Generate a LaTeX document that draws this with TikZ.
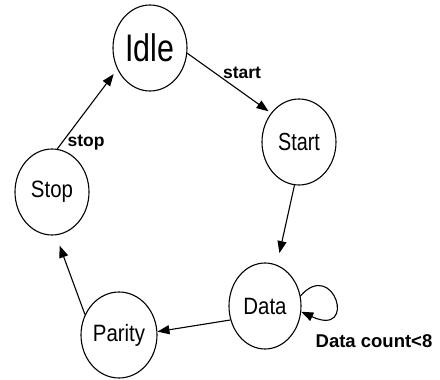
\documentclass[tikz,border=0pt]{standalone}
\usepackage{fontspec}
\setmainfont{Liberation Sans}
\usetikzlibrary{shapes.geometric,arrows.meta}
\tikzset{
  state/.style={draw, ellipse, line width=1.1pt, minimum width=74pt, minimum height=86pt, inner sep=0pt, font=\fontsize{21.5}{24}\selectfont},
  trans/.style={line width=1.1pt, -{Triangle[length=12pt,width=9pt]}},
  lbl/.style={font=\bfseries\fontsize{17.5}{20}\selectfont, inner sep=0pt}
}
\begin{document}
\begin{tikzpicture}[x=1pt,y=-1pt]
  \useasboundingbox (0,0) rectangle (440,380);
  % states
  \node[state] (idle)   at (150,48)  {\scalebox{0.95}[1.2]{\fontsize{32}{36}\selectfont Idle}};
  \node[state] (start)  at (299,142) {\scalebox{0.92}[1.15]{Start}};
  \node[state, minimum width=72pt] (data) at (265,306) {\scalebox{0.95}[1.1]{Data}};
  \node[state, minimum width=76pt] (parity) at (119,335) {\scalebox{0.95}[1.1]{Parity}};
  \node[state] (stop)   at (52,192)  {\scalebox{0.95}[1.1]{Stop}};
  % transitions
  \draw[trans, shorten >=3pt] (idle.-8) -- (start.134);
  \draw[trans, shorten >=12pt] (start.-96) -- (data.74);
  \draw[trans] (data.202) -- (parity.5);
  \draw[trans, shorten >=11pt] (parity.149) -- (stop.-85);
  \draw[trans, shorten >=6pt] (stop.83) -- (idle.213);
  % self loop on Data
  \draw[trans] (data.16) .. controls (334,258) and (358,338) .. (data.-9);
  % transition labels
  \node[lbl] (lstart) at (242,73) {start};
  \node[lbl] (lstop)  at (86,143) {stop};
  \node[lbl, font=\bfseries\fontsize{18.5}{20}\selectfont] (lcount) at (374,341) {Data count<8};
\end{tikzpicture}
\end{document}
